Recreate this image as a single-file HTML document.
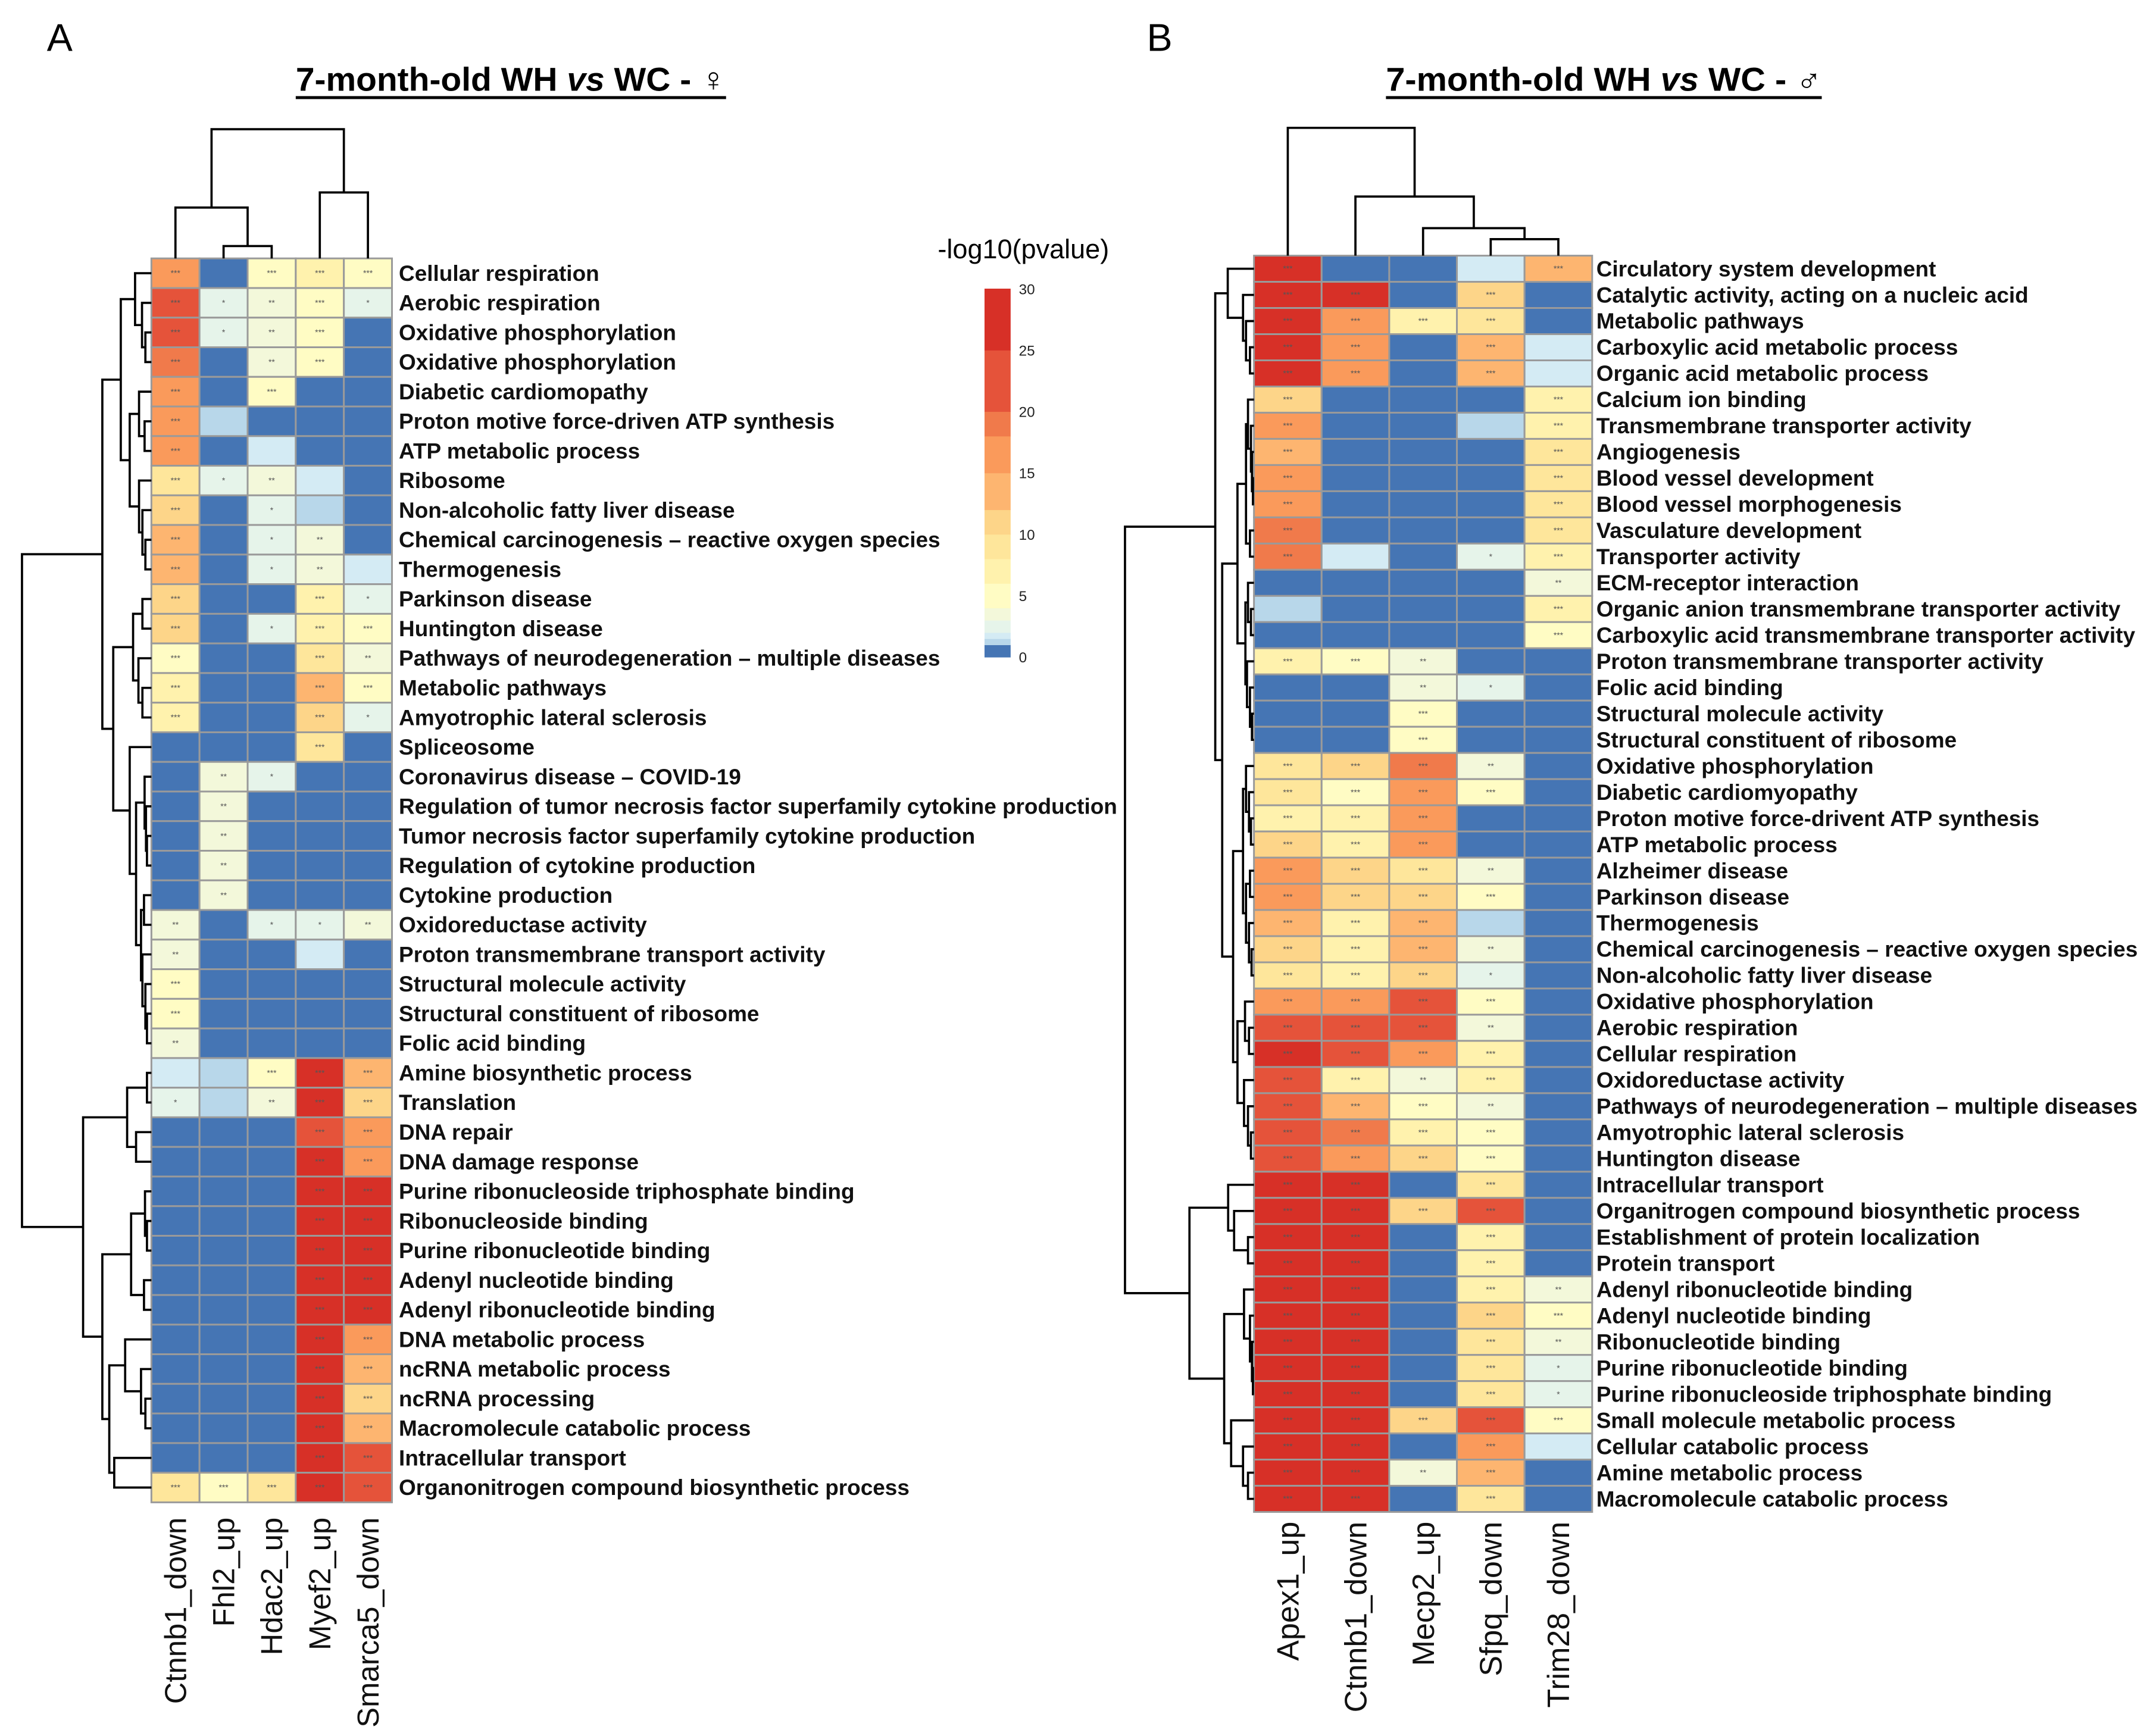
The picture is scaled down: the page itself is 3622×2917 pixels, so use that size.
<!DOCTYPE html>
<html><head><meta charset="utf-8"><style>
html,body{margin:0;padding:0;background:#fff;}
svg{display:block;font-family:"Liberation Sans",sans-serif;}
</style></head><body>
<svg id="fig" width="3622" height="2917" viewBox="0 0 1568 1263" xmlns="http://www.w3.org/2000/svg">
<text x="34" y="37" font-size="28">A</text>
<text x="834" y="37" font-size="28">B</text>
<text x="215" y="66" font-size="24" font-weight="bold" textLength="313" lengthAdjust="spacingAndGlyphs">7-month-old WH <tspan font-style="italic">vs</tspan> WC - ♀</text>
<line x1="215" y1="71" x2="528" y2="71" stroke="#000" stroke-width="2.2"/>
<text x="1008" y="66" font-size="24" font-weight="bold" textLength="317" lengthAdjust="spacingAndGlyphs">7-month-old WH <tspan font-style="italic">vs</tspan> WC - ♂</text>
<line x1="1008" y1="71" x2="1325" y2="71" stroke="#000" stroke-width="2.2"/>
<text x="682" y="188" font-size="19.5">-log10(pvalue)</text>
<g id="legend"></g>
<g id="panelA"></g>
<g id="panelB"></g>
</svg>
<script>
// ---------- data ----------
const colsA = ["Ctnnb1_down","Fhl2_up","Hdac2_up","Myef2_up","Smarca5_down"];
const rowsA = ["Cellular respiration","Aerobic respiration","Oxidative phosphorylation","Oxidative phosphorylation","Diabetic cardiomopathy","Proton motive force-driven ATP synthesis","ATP metabolic process","Ribosome","Non-alcoholic fatty liver disease","Chemical carcinogenesis – reactive oxygen species","Thermogenesis","Parkinson disease","Huntington disease","Pathways of neurodegeneration – multiple diseases","Metabolic pathways","Amyotrophic lateral sclerosis","Spliceosome","Coronavirus disease – COVID-19","Regulation of tumor necrosis factor superfamily cytokine production","Tumor necrosis factor superfamily cytokine production","Regulation of cytokine production","Cytokine production","Oxidoreductase activity","Proton transmembrane transport activity","Structural molecule activity","Structural constituent of ribosome","Folic acid binding","Amine biosynthetic process","Translation","DNA repair","DNA damage response","Purine ribonucleoside triphosphate binding","Ribonucleoside binding","Purine ribonucleotide binding","Adenyl nucleotide binding","Adenyl ribonucleotide binding","DNA metabolic process","ncRNA metabolic process","ncRNA processing","Macromolecule catabolic process","Intracellular transport","Organonitrogen compound biosynthetic process"];
const valsA = [
[16.5,0,5,7.5,5],[23,2.5,3.5,5,2.5],[23,2.5,3.5,5,0],[19,0,3.5,5,0],[16.5,0,5,0,0],
[16.5,1.2,0,0,0],[16.5,0,1.7,0,0],[9.5,2.5,3.5,1.7,0],[11,0,2.5,1.2,0],[13.5,0,2.5,3.5,0],
[13.5,0,2.5,3.5,1.7],[11,0,0,7.5,2.5],[11,0,2.5,7.5,5],[5,0,0,9.5,3.5],[7.5,0,0,13.5,5],
[7.5,0,0,11,2.5],[0,0,0,9.5,0],[0,3.5,2.5,0,0],[0,3.5,0,0,0],[0,3.5,0,0,0],
[0,3.5,0,0,0],[0,3.5,0,0,0],[3.5,0,2.5,2.5,3.5],[3.5,0,0,1.7,0],[5,0,0,0,0],
[5,0,0,0,0],[3.5,0,0,0,0],[1.7,1.2,5,28,13.5],[2.5,1.2,3.5,28,11],[0,0,0,23,16.5],
[0,0,0,28,16.5],[0,0,0,28,28],[0,0,0,28,28],[0,0,0,28,28],[0,0,0,28,28],
[0,0,0,28,28],[0,0,0,28,16.5],[0,0,0,28,13.5],[0,0,0,28,11],[0,0,0,28,13.5],
[0,0,0,28,23],[9,5,9,28,23]];
const starsA = [
[3,0,3,3,3],[3,1,2,3,1],[3,1,2,3,0],[3,0,2,3,0],[3,0,3,0,0],[3,0,0,0,0],[3,0,0,0,0],[3,1,2,0,0],[3,0,1,0,0],[3,0,1,2,0],
[3,0,1,2,0],[3,0,0,3,1],[3,0,1,3,3],[3,0,0,3,2],[3,0,0,3,3],[3,0,0,3,1],[0,0,0,3,0],[0,2,1,0,0],[0,2,0,0,0],[0,2,0,0,0],
[0,2,0,0,0],[0,2,0,0,0],[2,0,1,1,2],[2,0,0,0,0],[3,0,0,0,0],[3,0,0,0,0],[2,0,0,0,0],[0,0,3,3,3],[1,0,2,3,3],[0,0,0,3,3],
[0,0,0,3,3],[0,0,0,3,3],[0,0,0,3,3],[0,0,0,3,3],[0,0,0,3,3],[0,0,0,3,3],[0,0,0,3,3],[0,0,0,3,3],[0,0,0,3,3],[0,0,0,3,3],
[0,0,0,3,3],[3,3,3,3,3]];

const colsB = ["Apex1_up","Ctnnb1_down","Mecp2_up","Sfpq_down","Trim28_down"];
const rowsB = ["Circulatory system development","Catalytic activity, acting on a nucleic acid","Metabolic pathways","Carboxylic acid metabolic process","Organic acid metabolic process","Calcium ion binding","Transmembrane transporter activity","Angiogenesis","Blood vessel development","Blood vessel morphogenesis","Vasculature development","Transporter activity","ECM-receptor interaction","Organic anion transmembrane transporter activity","Carboxylic acid transmembrane transporter activity","Proton transmembrane transporter activity","Folic acid binding","Structural molecule activity","Structural constituent of ribosome","Oxidative phosphorylation","Diabetic cardiomyopathy","Proton motive force-drivent ATP synthesis","ATP metabolic process","Alzheimer disease","Parkinson disease","Thermogenesis","Chemical carcinogenesis – reactive oxygen species","Non-alcoholic fatty liver disease","Oxidative phosphorylation","Aerobic respiration","Cellular respiration","Oxidoreductase activity","Pathways of neurodegeneration – multiple diseases","Amyotrophic lateral sclerosis","Huntington disease","Intracellular transport","Organitrogen compound biosynthetic process","Establishment of protein localization","Protein transport","Adenyl ribonucleotide binding","Adenyl nucleotide binding","Ribonucleotide binding","Purine ribonucleotide binding","Purine ribonucleoside triphosphate binding","Small molecule metabolic process","Cellular catabolic process","Amine metabolic process","Macromolecule catabolic process"];
const valsB = [
[28,0,0,1.7,13.5],[28,28,0,11,0],[28,16.5,7.5,9,0],[28,16.5,0,13.5,1.7],[28,16.5,0,13.5,1.7],
[11,0,0,0,7.5],[16.5,0,0,1.2,7.5],[13.5,0,0,0,9],[16.5,0,0,0,9],[16.5,0,0,0,9],
[19,0,0,0,9],[19,1.7,0,2.5,7.5],[0,0,0,0,3.5],[1.2,0,0,0,7.5],[0,0,0,0,5],
[7.5,5,3.5,0,0],[0,0,3.5,2.5,0],[0,0,5,0,0],[0,0,5,0,0],[9,11,19,3.5,0],
[9,5,16.5,5,0],[7.5,7.5,16.5,0,0],[11,7.5,16.5,0,0],[16.5,11,9,3.5,0],[16.5,11,11,5,0],
[13.5,7.5,13.5,1.2,0],[11,7.5,13.5,3.5,0],[9,7.5,11,2.5,0],[16.5,16.5,23,5,0],[23,23,23,3.5,0],
[28,23,16.5,7.5,0],[23,7.5,3.5,7.5,0],[23,13.5,5,3.5,0],[23,19,7.5,5,0],[23,16.5,11,5,0],
[28,28,0,9,0],[28,28,11,23,0],[28,28,0,7.5,0],[28,28,0,7.5,0],[28,28,0,7.5,3.5],
[28,28,0,11,5],[28,28,0,9,3.5],[28,28,0,9,2.5],[28,28,0,9,2.5],[28,28,11,23,5],
[28,28,0,16.5,1.7],[28,28,3.5,13.5,0],[28,28,0,9,0]];
const starsB = [
[3,0,0,0,3],[3,3,0,3,0],[3,3,3,3,0],[3,3,0,3,0],[3,3,0,3,0],[3,0,0,0,3],[3,0,0,0,3],[3,0,0,0,3],[3,0,0,0,3],[3,0,0,0,3],
[3,0,0,0,3],[3,0,0,1,3],[0,0,0,0,2],[0,0,0,0,3],[0,0,0,0,3],[3,3,2,0,0],[0,0,2,1,0],[0,0,3,0,0],[0,0,3,0,0],[3,3,3,2,0],
[3,3,3,3,0],[3,3,3,0,0],[3,3,3,0,0],[3,3,3,2,0],[3,3,3,3,0],[3,3,3,0,0],[3,3,3,2,0],[3,3,3,1,0],[3,3,3,3,0],[3,3,3,2,0],
[3,3,3,3,0],[3,3,2,3,0],[3,3,3,2,0],[3,3,3,3,0],[3,3,3,3,0],[3,3,0,3,0],[3,3,3,3,0],[3,3,0,3,0],[3,3,0,3,0],[3,3,0,3,2],
[3,3,0,3,3],[3,3,0,3,2],[3,3,0,3,1],[3,3,0,3,1],[3,3,3,3,3],[3,3,0,3,0],[3,3,2,3,0],[3,3,0,3,0]];

const legendTicks = [0,5,10,15,20,25,30];
const breaks = [0,1,1.5,2,3,4,6,8,10,12,15,18,20,25,30];
const bandColors = ["#4575b4","#b8d7ea","#d4ebf4","#e6f4ea","#f3f8da","#fffcc4","#fff2ad","#fee69b","#fdd589","#fdb570","#fa9a5b","#f07a4b","#e5533a","#d73027"];

const treeA = [50,
 [455,
  [548,[620,1,[655,2,[672,3,4]]],[593,[640,5,[668,6,7]],[640,8,[657,9,[672,10,11]]]]],
  [510,[610,[657,12,13],[637,14,[657,15,16]]],[593,17,[625,[668,18,[675,19,[680,20,21]]],[650,[665,22,23],[657,24,[672,25,[680,26,27]]]]]]]],
 [358,
  [580,[680,28,29],[625,30,31]],
  [455,[600,[670,32,[680,33,34]],[665,35,36]],[490,[570,37,[650,38,[672,39,40]]],[515,41,42]]]]];
const treeB = [30,
 [485,
  [548,1,[625,2,[640,3,[660,4,5]]]],
  [520,
   [597,[640,[650,6,[665,7,[670,8,[675,9,10]]]],[660,11,12]],[637,[650,13,[665,14,15]],[645,16,[660,17,[670,18,19]]]]],
   [575,[625,[640,20,[655,21,[665,22,23]]],[640,[660,24,25],[655,26,[668,27,28]]]],[597,[635,29,[655,30,31]],[630,32,[650,33,[665,34,35]]]]]]],
 [355,
  [550,36,[580,37,[650,38,39]]],
  [530,[630,40,[660,41,[670,42,[675,43,44]]]],[565,45,[625,46,[650,47,48]]]]]];

const colTreeA = [94,[151,1,[179,2,3]],[140,4,5]];
const colTreeB = [93,1,[143,2,[166,3,[174,4,5]]]];

// ---------- drawing ----------
const NS = "http://www.w3.org/2000/svg";
function mk(tag, attrs, parent){const e=document.createElementNS(NS,tag);for(const k in attrs)e.setAttribute(k,attrs[k]);parent.appendChild(e);return e;}
function color(v){for(let i=breaks.length-2;i>=0;i--){if(v>=breaks[i]&&v>0)return bandColors[i];}return bandColors[0];}

const lg = document.getElementById('legend');
const lgTop=210, lgBot=478, lgX=716, lgW=19;
function ly(v){return lgBot-(v/30)*(lgBot-lgTop);}
for(let i=0;i<bandColors.length;i++){
  const r=mk('rect',{x:lgX,y:ly(breaks[i+1]),width:lgW,height:ly(breaks[i])-ly(breaks[i+1])+0.3,fill:bandColors[i]},lg);
  
  
}
legendTicks.forEach(t=>{
  const tx=mk('text',{x:741,y:ly(t)+4,'font-size':10.5,fill:'#222'},lg);tx.textContent=t;
  
  
});

function drawPanel(g, cols, rows, vals, stars, cfg){
  const {x0,y0,cw,rh,labelX,colLabelY,colFont,rowFont,tree,convX,colTree} = cfg;
  const rowY = i => y0 + (i-0.5)*rh;
  const colX = j => x0 + (j-0.5)*cw;
  for(let r=0;r<rows.length;r++){
    for(let c=0;c<cols.length;c++){
      const cell=mk('rect',{x:x0+c*cw,y:y0+r*rh,width:cw,height:rh,fill:color(vals[r][c]),stroke:'#9a9a9a','stroke-width':1.3},g);
      
      
      if(stars[r][c]>0){
        const st=mk('text',{x:x0+(c+0.5)*cw,y:y0+(r+0.5)*rh+2,'font-size':6,'text-anchor':'middle',fill:'#555'},g);
        st.textContent='*'.repeat(stars[r][c]);
        
        
      }
    }
    const lab=mk('text',{x:labelX,y:rowY(r+1)+5.5,'font-size':rowFont,'font-weight':'bold',fill:'#111'},g);
    lab.textContent=rows[r];
    
    
  }
  cols.forEach((cn,j)=>{
    const cx=colX(j+1);
    const t=mk('text',{x:0,y:0,'font-size':colFont,'text-anchor':'end',fill:'#111',transform:`translate(${cx+colFont*0.35},${colLabelY}) rotate(-90)`},g);
    t.textContent=cn;
    
    
  });
  const edgeX = x0;
  function walk(n){
    if(typeof n==='number') return {x:edgeX,y:rowY(n)};
    const a=walk(n[1]), b=walk(n[2]); const nx=convX(n[0]);
    const p=mk('path',{d:`M${a.x},${a.y}H${nx}V${b.y}H${b.x}`,fill:'none',stroke:'#000','stroke-width':1.6},g);
    
    
    return {x:nx,y:(a.y+b.y)/2};
  }
  walk(tree);
  function walkC(n){
    if(typeof n==='number') return {x:colX(n),y:y0};
    const a=walkC(n[1]), b=walkC(n[2]); const ny=n[0];
    const p=mk('path',{d:`M${a.x},${a.y}V${ny}H${b.x}V${b.y}`,fill:'none',stroke:'#000','stroke-width':1.6},g);
    
    
    return {x:(a.x+b.x)/2,y:ny};
  }
  walkC(colTree);
}
drawPanel(document.getElementById('panelA'), colsA, rowsA, valsA, starsA, {
  x0:110,y0:188,cw:35,rh:(1093-188)/42,labelX:290,colLabelY:1104,colFont:22,rowFont:16,
  tree:treeA,convX:z=>(20+z/3)/2.31,colTree:colTreeA});
drawPanel(document.getElementById('panelB'), colsB, rowsB, valsB, starsB, {
  x0:912,y0:186,cw:49.2,rh:(1100-186)/48,labelX:1161,colLabelY:1107,colFont:22.5,rowFont:16,
  tree:treeB,convX:z=>(1880+z/3)/2.31,colTree:colTreeB});
</script>
</body></html>
